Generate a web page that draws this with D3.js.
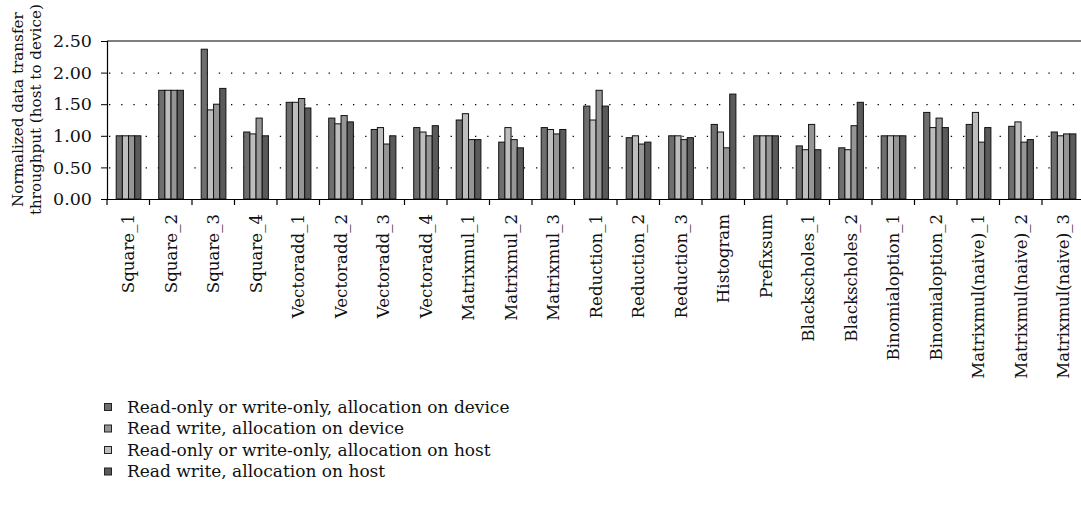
<!DOCTYPE html>
<html><head><meta charset="utf-8">
<script src="https://cdn.jsdelivr.net/npm/d3@7"></script>
<style>body{margin:0;background:#fff;} svg{display:block;} svg text{font-family:"DejaVu Serif",serif;}</style>
</head><body>
<svg id="c" width="1081" height="508"></svg>
<script>
const categories = ["Square_1","Square_2","Square_3","Square_4","Vectoradd_1","Vectoradd_2","Vectoradd_3","Vectoradd_4","Matrixmul_1","Matrixmul_2","Matrixmul_3","Reduction_1","Reduction_2","Reduction_3","Histogram","Prefixsum","Blackscholes_1","Blackscholes_2","Binomialoption_1","Binomialoption_2","Matrixmul(naive)_1","Matrixmul(naive)_2","Matrixmul(naive)_3"];
// series in bar order (left to right within a group)
const seriesNames = ["Read-only or write-only, allocation on device","Read-only or write-only, allocation on host","Read write, allocation on device","Read write, allocation on host"];
const roDevice = [1.00,1.72,2.37,1.06,1.53,1.28,1.10,1.13,1.25,0.90,1.13,1.47,0.97,1.00,1.18,1.00,0.84,0.81,1.00,1.37,1.18,1.15,1.06];
const roHost   = [1.00,1.72,1.41,1.03,1.53,1.19,1.13,1.06,1.35,1.13,1.10,1.25,1.00,1.00,1.06,1.00,0.78,0.78,1.00,1.13,1.37,1.22,1.00];
const rwDevice = [1.00,1.72,1.50,1.28,1.59,1.32,0.87,1.00,0.94,0.94,1.03,1.72,0.87,0.94,0.81,1.00,1.18,1.16,1.00,1.28,0.90,0.90,1.03];
const rwHost   = [1.00,1.72,1.75,1.00,1.44,1.22,1.00,1.16,0.94,0.81,1.10,1.47,0.90,0.97,1.66,1.00,0.78,1.53,1.00,1.13,1.13,0.94,1.03];
const yTicks = [0,0.5,1.0,1.5,2.0,2.5];
const legendOrder = ["Read-only or write-only, allocation on device","Read write, allocation on device","Read-only or write-only, allocation on host","Read write, allocation on host"];
const yTitleLines = ["Normalized data transfer","throughput (host to device)"];

const seriesValues = [roDevice, roHost, rwDevice, rwHost];
const colors = {
  "Read-only or write-only, allocation on device":"#6e6e6e",
  "Read-only or write-only, allocation on host":"#bdbdbd",
  "Read write, allocation on device":"#959595",
  "Read write, allocation on host":"#5a5a5a"
};
const FONT = "DejaVu Serif";

const svg = d3.select("#c");
const x0 = 107, catW = 42.5;
const yTop = 41, yBot = 199;
const x = d3.scaleBand().domain(categories).range([x0, x0 + catW*categories.length]).paddingInner(0).paddingOuter(0);
const xs = d3.scaleBand().domain(seriesNames).range([9.2, 33.9]).padding(0);
const y = d3.scaleLinear().domain([0,2.5]).range([yBot, yTop]);

// grid lines (dotted)
svg.append("g").selectAll("line").data(yTicks.filter(d=>d>0 && d<2.5)).join("line")
  .attr("x1", x0+2).attr("x2", 1081)
  .attr("y1", d=>y(d)+0.5).attr("y2", d=>y(d)+0.5)
  .attr("stroke","#000").attr("stroke-width",1.3).attr("stroke-dasharray","1.3,10.9");

// top border
svg.append("line").attr("x1",x0).attr("x2",1081).attr("y1",y(2.5)).attr("y2",y(2.5)).attr("stroke","#000").attr("stroke-width",1.2);

// bars
const g = svg.append("g").selectAll("g").data(categories).join("g")
  .attr("transform", d=>`translate(${x(d)},0)`);
g.selectAll("rect").data((c,i)=>seriesNames.map((s,j)=>({s, v: seriesValues[j][i]}))).join("rect")
  .attr("x", d=>xs(d.s)).attr("width", xs.bandwidth())
  .attr("y", d=>y(d.v)).attr("height", d=>y(0)-y(d.v))
  .attr("fill", d=>colors[d.s]).attr("stroke","#111").attr("stroke-width",1);

// y axis
const yAxis = svg.append("g").attr("transform",`translate(${x0},0)`)
  .call(d3.axisLeft(y).tickValues(yTicks).tickFormat(d3.format(".2f")).tickSize(6).tickPadding(9));
yAxis.attr("font-family", FONT);
yAxis.select(".domain").attr("stroke","#000").attr("stroke-width",1.2);
yAxis.selectAll("text").attr("font-size",17.5).attr("font-family",FONT).attr("fill","#111");

// x axis
const xAxis = svg.append("g").attr("transform",`translate(0,${yBot})`)
  .call(d3.axisBottom(x).tickSize(0).tickFormat(""));
xAxis.select(".domain").attr("stroke","#000").attr("stroke-width",1.2);
// category boundary ticks
svg.append("g").selectAll("line").data(categories).join("line")
  .attr("x1", d=>x(d)).attr("x2", d=>x(d)).attr("y1", yBot).attr("y2", yBot+6)
  .attr("stroke","#000").attr("stroke-width",1.2);
// labels
svg.append("g").selectAll("text").data(categories).join("text")
  .attr("transform", d=>`translate(${x(d)+x.bandwidth()/2},${yBot+15}) rotate(-90)`)
  .attr("text-anchor","end").attr("dy","0.36em").attr("font-family",FONT)
  .attr("font-size",16.6).attr("fill","#111").text(d=>d);

// y title (fit so the longer line spans y≈2..215)
let tSize = 16.5;
const yt = svg.append("text").attr("text-anchor","middle").attr("font-family",FONT).attr("fill","#111");
const spans = yt.selectAll("tspan").data(yTitleLines).join("tspan").attr("x",0).attr("y",(d,i)=>i===0?23:41).text(d=>d);
yt.attr("font-size", tSize);
let L = d3.max(spans.nodes(), n=>n.getComputedTextLength());
if (L > 211) { tSize = tSize*211/L; yt.attr("font-size", tSize); L = d3.max(spans.nodes(), n=>n.getComputedTextLength()); }
yt.attr("transform",`translate(0,${215 - L/2}) rotate(-90)`);

// legend
const lg = svg.append("g").selectAll("g").data(legendOrder).join("g")
  .attr("transform",(d,i)=>`translate(104,${407 + i*21.5})`);
lg.append("rect").attr("x",0.5).attr("y",-3.5).attr("width",7).attr("height",7)
  .attr("fill", d=>colors[d]).attr("stroke","#222").attr("stroke-width",1);
lg.append("text").attr("x",23).attr("y",0).attr("dy","0.33em").attr("font-size",17).attr("font-family",FONT).attr("fill","#111").text(d=>d);
</script>
</body></html>
